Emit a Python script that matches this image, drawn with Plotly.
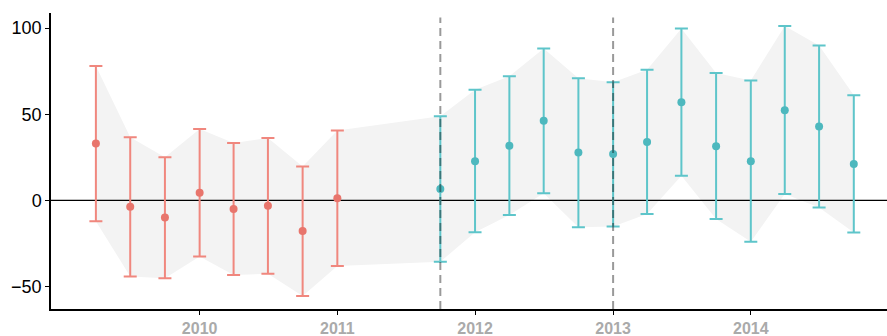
import plotly.graph_objects as go

# ---- data ----
red_dates = ["2009-04-01", "2009-07-01", "2009-10-01", "2010-01-01",
             "2010-04-01", "2010-07-01", "2010-10-01", "2011-01-01"]
red_est = [33.0, -3.7, -9.9, 4.4, -5.0, -3.1, -17.8, 1.3]
red_upper = [78.1, 36.7, 25.1, 41.5, 33.4, 36.3, 19.7, 40.6]
red_lower = [-12.0, -44.1, -45.1, -32.5, -43.3, -42.6, -55.5, -38.1]

teal_dates = ["2011-10-01", "2012-01-01", "2012-04-01", "2012-07-01",
              "2012-10-01", "2013-01-01", "2013-04-01", "2013-07-01",
              "2013-10-01", "2014-01-01", "2014-04-01", "2014-07-01",
              "2014-10-01"]
teal_est = [6.6, 22.8, 31.7, 46.2, 27.8, 26.9, 34.0, 57.0, 31.5, 22.8, 52.4, 42.9, 21.2]
teal_upper = [48.9, 64.2, 72.1, 88.2, 70.9, 68.6, 75.8, 99.8, 74.0, 69.6, 101.3, 89.9, 61.1]
teal_lower = [-35.6, -18.4, -8.4, 4.2, -15.5, -15.1, -7.8, 14.3, -10.8, -24.0, 3.7, -4.1, -18.6]

vlines = ["2011-10-01", "2013-01-01"]
y_ticks = [-50, 0, 50, 100]
x_ticks = ["2010-01-01", "2011-01-01", "2012-01-01", "2013-01-01", "2014-01-01"]
x_tick_labels = ["2010", "2011", "2012", "2013", "2014"]

RED_M = "#E8756C"
RED_E = "#F0877E"
TEAL_M = "#4DB8BE"
TEAL_E = "#5EC5CA"

X_RANGE = ["2008-12-03", "2014-12-28"]

fig = go.Figure()

# ribbon
all_dates = red_dates + teal_dates
all_up = red_upper + teal_upper
all_lo = red_lower + teal_lower
fig.add_trace(go.Scatter(
    x=all_dates + all_dates[::-1],
    y=all_up + all_lo[::-1],
    fill="toself", fillcolor="#F3F3F3", line=dict(width=0),
    mode="lines", hoverinfo="skip", showlegend=False))

# zero reference line (above ribbon, below bars)
fig.add_trace(go.Scatter(
    x=X_RANGE, y=[0, 0], mode="lines",
    line=dict(color="black", width=1.3), hoverinfo="skip", showlegend=False))


def add_series(dates, est, up, lo, mcol, ecol):
    fig.add_trace(go.Scatter(
        x=dates, y=est, mode="markers",
        marker=dict(color=mcol, size=8),
        error_y=dict(type="data", symmetric=False,
                     array=[u - e for u, e in zip(up, est)],
                     arrayminus=[e - l for e, l in zip(est, lo)],
                     color=ecol, thickness=2, width=6.5),
        showlegend=False))


add_series(red_dates, red_est, red_upper, red_lower, RED_M, RED_E)
add_series(teal_dates, teal_est, teal_upper, teal_lower, TEAL_M, TEAL_E)

for v in vlines:
    fig.add_shape(type="line", xref="x", yref="paper", x0=v, x1=v, y0=0, y1=0.985,
                  line=dict(color="rgba(0,0,0,0.4)", width=2, dash="8px,5px"),
                  layer="above")

fig.update_layout(
    width=887, height=336,
    margin=dict(l=51, r=0, t=13, b=27),
    plot_bgcolor="white", paper_bgcolor="white",
    font=dict(family="Liberation Sans, Arial, sans-serif", size=17, color="black"),
    xaxis=dict(
        type="date", range=X_RANGE,
        tickvals=x_ticks, ticktext=x_tick_labels,
        showgrid=False, zeroline=False, automargin=False,
        showline=True, linecolor="black", linewidth=1.5,
        ticks="outside", ticklen=4, tickcolor="black", tickwidth=1.2,
        tickfont=dict(family="Liberation Sans, Arial, sans-serif", size=16,
                      color="#AAAAAA", weight="bold"),
    ),
    yaxis=dict(
        range=[-63.0, 108.8],
        tickvals=y_ticks, automargin=False,
        showgrid=False, zeroline=False,
        showline=True, linecolor="black", linewidth=1.5,
        ticks="outside", ticklen=4, tickcolor="black", tickwidth=1.2,
        tickfont=dict(size=18, color="black"),
    ),
)

fig.write_html("out.html", config={"displayModeBar": False},
               post_script="document.body.style.margin='0';document.body.style.overflow='hidden';")
